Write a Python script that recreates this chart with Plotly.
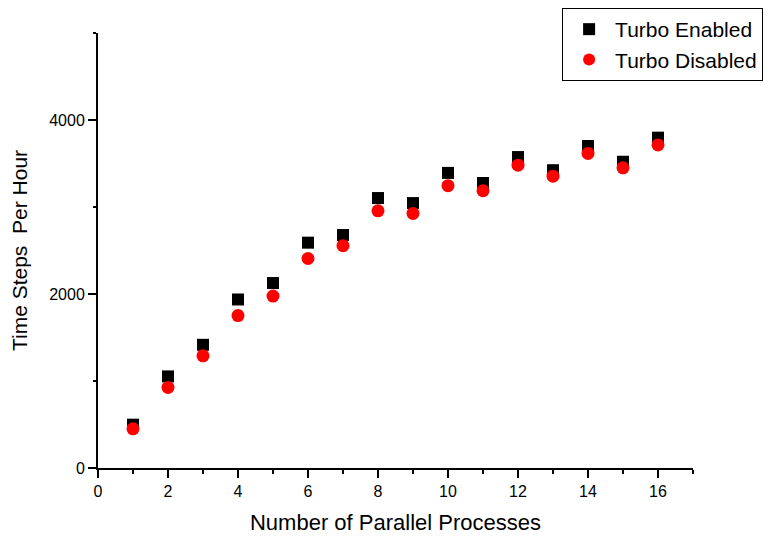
import plotly.graph_objects as go

processes = list(range(1, 17))
turbo_enabled = [498, 1053, 1416, 1937, 2126, 2590, 2678, 3103, 3045, 3392, 3276, 3574, 3423, 3701, 3520, 3797]
turbo_disabled = [450, 926, 1289, 1752, 1976, 2408, 2555, 2956, 2926, 3245, 3187, 3481, 3354, 3616, 3450, 3713]

fig = go.Figure()
fig.add_trace(go.Scatter(x=processes, y=turbo_enabled, mode="markers", name="Turbo Enabled",
                         marker=dict(symbol="square", size=12, color="black")))
fig.add_trace(go.Scatter(x=processes, y=turbo_disabled, mode="markers", name="Turbo Disabled",
                         marker=dict(symbol="circle", size=13, color="red")))

sans = "Liberation Sans, Arial, sans-serif"
tick_font = dict(family=sans, size=16, color="black")
fig.update_layout(
    width=776, height=536,
    margin=dict(l=90, r=91, t=0, b=76),
    paper_bgcolor="white", plot_bgcolor="white",
    showlegend=True,
    legend=dict(x=0.78, y=1.0576, xanchor="left", yanchor="top",
                bordercolor="black", borderwidth=1, bgcolor="white",
                font=dict(family=sans, size=21, color="black"),
                itemsizing="constant", tracegroupgap=0, itemwidth=42),
    xaxis=dict(range=[0, 17], dtick=2, tick0=0, showgrid=False, zeroline=False,
               showline=True, linecolor="black", linewidth=2, automargin=False,
               ticks="outside", ticklen=8, tickwidth=2, tickcolor="black",
               minor=dict(dtick=1, ticks="outside", ticklen=4, tickwidth=2, tickcolor="black"),
               tickfont=tick_font,
               title=dict(text="Number of Parallel Processes",
                          font=dict(family=sans, size=22, color="black"),
                          standoff=15)),
    yaxis=dict(range=[0, 5000], dtick=2000, tick0=0, showgrid=False, zeroline=False,
               showline=True, linecolor="black", linewidth=2, automargin=False,
               ticks="outside", ticklen=8, tickwidth=2, tickcolor="black",
               minor=dict(dtick=1000, ticks="outside", ticklen=3, tickwidth=2, tickcolor="black"),
               tickfont=tick_font,
               title=dict(text="Time Steps\u00a0 Per Hour",
                          font=dict(family=sans, size=21, color="black"),
                          standoff=16)),
)
fig.write_html("out.html")
